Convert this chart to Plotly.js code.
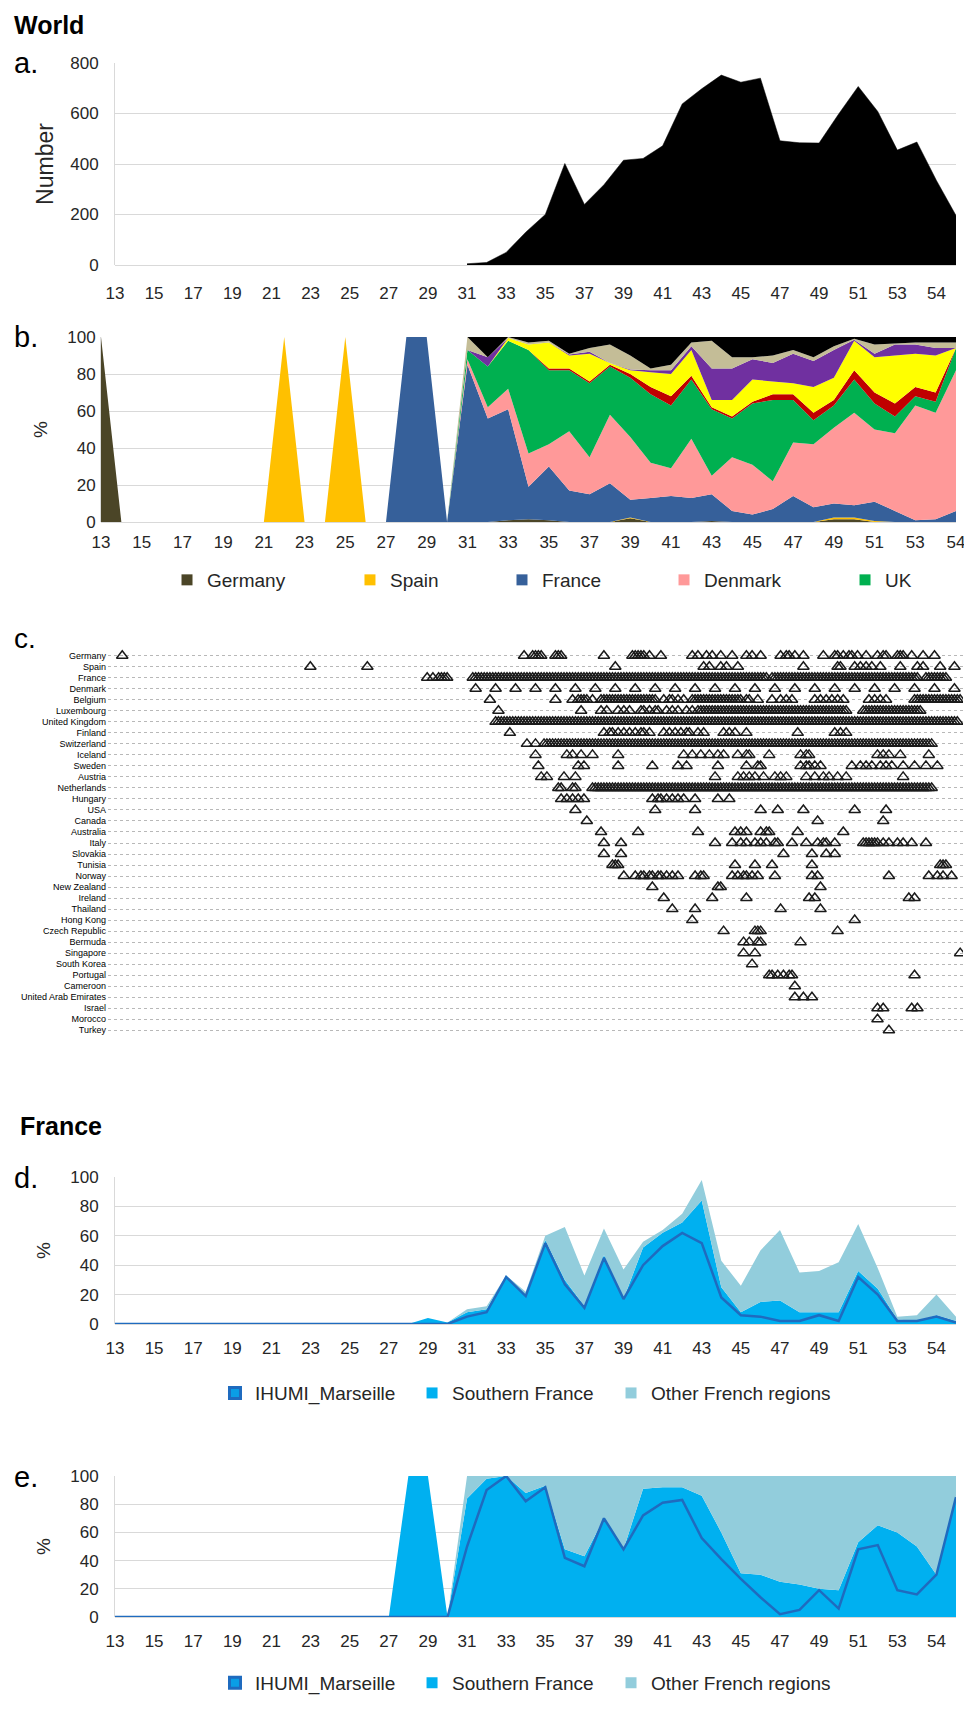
<!DOCTYPE html>
<html><head><meta charset="utf-8">
<script src="https://cdn.plot.ly/plotly-3.0.1.min.js"></script>
<style>
html,body{margin:0;padding:0;background:#fff;}
.p{position:absolute;left:0;width:964px;}
</style></head><body>
<div id="pa" class="p" style="top:0;height:320px"></div>
<div id="pb" class="p" style="top:320px;height:290px"></div>
<div id="pc" class="p" style="top:610px;height:470px"></div>
<div id="pd" class="p" style="top:1080px;height:340px"></div>
<div id="pe" class="p" style="top:1420px;height:290px"></div>
<script>
// ---------- shared week axis ----------
const weeks = [13,14,15,16,17,18,19,20,21,22,23,24,25,26,27,28,29,30,31,32,33,34,35,36,37,38,39,40,41,42,43,44,45,46,47,48,49,50,51,52,53,54,55,56];
const weeksB = [13,14,15,16,17,18,19,20,21,22,23,24,25,26,27,28,29,30,31,32,33,34,35,36,37,38,39,40,41,42,43,44,45,46,47,48,49,50,51,52,53,54,55];
const tickVals = [13,15,17,19,21,23,25,27,29,31,33,35,37,39,41,43,45,47,49,51,53,55];
const tickText = ['13','15','17','19','21','23','25','27','29','31','33','35','37','39','41','43','45','47','49','51','53','54'];

// ---------- panel a: number of genomes ----------
const worldCount = [null,null,null,null,null,null,null,null,null,null,null,null,null,null,null,null,null,null,
  5,10,50,130,200,402,240,318,415,422,472,638,698,752,724,740,492,484,483,598,707,608,455,487,335,196];

// ---------- panel b: % by country ----------
const germanyPct = [100,0,0,0,0,0,0,0,0,0,0,0,0,0,0,0,0,0, 0,0,1,1.5,1,0,0,0,2,0,0,0,0.5,0,0,0,0,0,1.5,1.5,0,0,0,0,0];
const spainPct   = [0,0,0,0,0,0,0,0,0,100,0,0,100,0,0,0,0,0, 0,0,0,0,0,0,0,0,0.5,0,0,0,0,0,0,0,0,0,1,1,0.5,0,0,0,0];
const francePct  = [0,0,0,0,0,0,0,0,0,0,0,0,0,0,0,100,100,0, 85,56,60,17.5,29,17,15,21,9.5,13,14,13,14.5,6,4,7,14,8,7.5,6.5,10.5,6,1,1.5,6];
const denmarkPct = [0,0,0,0,0,0,0,0,0,0,0,0,0,0,0,0,0,0, 3,6,11,18,12,32,20,37,34,19,15,32,10,29,27,15,29,34,41,50,39,42,62,57.5,76];
const ukPct      = [0,0,0,0,0,0,0,0,0,0,0,0,0,0,0,0,0,0, 5,22,26,56,40,33,40,26,32,37,34,32,36,21,33,44,23,13,12,18,14,9,5,6,12];
const redPct     = [0,0,0,0,0,0,0,0,0,0,0,0,0,0,0,0,0,0, 0,0,0,0,1,1,1,1,2,4,5,2,1,1,1,3,3,4,3,5,6,7,5,5,0];
const yellowPct  = [0,0,0,0,0,0,0,0,0,0,0,0,0,0,0,0,0,0, 0,0,1.5,3,14,7,15,1,2,8,12,14,4,9,12,7,6,14,12,16,19,26,18,20,0];
const purplePct  = [0,0,0,0,0,0,0,0,0,0,0,0,0,0,0,0,0,0, 0,5,0,0,0,0.5,1,0,0.5,1,2,2,17,17,11,10,16,14,15,0.5,2,6,5,4,0];
const tanPct     = [0,0,0,0,0,0,0,0,0,0,0,0,0,0,0,0,0,0, 7,0,0.5,1,1,0.5,2,10,7.5,1,3,2,15,6,1,4,2,2,2,0.5,5,0.5,1,3,3];
const blackPct   = [0,0,0,0,0,0,0,0,0,0,0,0,0,0,0,0,0,0, 0,11,0,3,2,9,6,4,10,17,15,3,2,11,11,10,7,11,5,1,4,3.5,3,3,3];
const legendCountries = ['Germany','Spain','France','Denmark','UK'];

// ---------- panel c: sampling days per country ----------
const countries = ['Germany','Spain','France','Denmark','Belgium','Luxembourg','United Kingdom','Finland','Switzerland','Iceland','Sweden','Austria','Netherlands','Hungary','USA','Canada','Australia','Italy','Slovakia','Tunisia','Norway','New Zealand','Ireland','Thailand','Hong Kong','Czech Republic','Bermuda','Singapore','South Korea','Portugal','Cameroon','United Arab Emirates','Israel','Morocco','Turkey'];
const daysGermany = [5,146,149,150,151,152,157,158,159,174,184,185,186,187,188,190,194,205,207,210,212,215,219,224,226,229,236,238,239,241,244,251,255,256,258,260,261,263,266,270,272,273,277,278,279,282,286,290];
const daysSpain = [71,91,178,209,211,215,217,221,244,256,257,262,264,266,268,271,278,284,286,292,297];
const daysFrance = [112,114,116,117,118,119,
  128,129,130,131,132,133,134,135,136,137,138,139,140,141,142,143,144,145,146,147,148,149,150,151,152,153,154,155,156,157,158,159,
  160,161,162,163,164,165,166,167,168,169,170,171,172,173,174,175,176,177,178,179,180,181,182,183,184,185,186,187,188,189,
  190,191,192,193,194,195,196,197,198,199,200,201,202,203,204,205,206,207,208,209,210,211,212,213,214,215,216,217,218,219,
  220,221,222,223,224,225,226,227,228,229,230,231,233,234,235,236,237,238,239,240,241,242,243,244,245,246,247,248,249,
  250,251,252,253,254,255,256,257,258,259,260,261,262,263,264,265,266,267,268,269,270,271,272,273,274,275,276,277,278,279,
  280,281,282,283,284,287,288,289,290,291,292,293,294];
const daysDenmark = [129,136,143,150,157,164,171,178,185,192,199,206,213,220,227,234,241,248,255,262,269,276,283,290,297];
const daysBelgium = [134,157,163,165,166,167,168,170,
  173,174,175,176,177,178,179,180,181,182,183,184,185,186,187,188,189,190,191,192,
  195,197,198,200,202,
  205,206,207,208,209,210,211,212,213,214,215,216,217,218,219,220,221,222,
  224,225,228,233,236,238,240,248,250,252,254,256,258,267,269,271,273,
  283,284,285,286,287,288,289,290,291,292,293,294,295,296,297,298,299];
const daysLuxembourg = [137,166,173,175,179,181,183,187,188,190,192,193,196,198,200,203,205,207,
  208,209,210,211,212,213,214,215,216,217,218,219,220,221,222,223,224,225,226,227,228,229,230,231,232,233,
  234,235,236,237,238,239,240,241,242,243,244,245,246,247,248,249,250,251,252,253,254,255,256,257,258,259,
  265,266,267,268,269,270,271,272,273,274,275,276,277,278,279,280,281,282,283,284,285];
const daysUK = [136,137,138,139,140,141,142,143,144,145,146,147,148,149,150,151,152,153,154,155,156,157,158,159,
  160,161,162,163,164,165,166,167,168,169,170,171,172,173,174,175,176,177,178,179,180,181,182,183,184,185,186,187,188,189,
  190,191,192,193,194,195,196,197,198,199,200,201,202,203,204,205,206,207,208,209,210,211,212,213,214,215,216,217,218,219,
  220,221,222,223,224,225,226,227,228,229,230,231,232,233,234,235,236,237,238,239,240,241,242,243,244,245,246,247,248,249,
  250,251,252,253,254,255,256,257,258,259,260,261,262,263,264,265,266,267,268,269,270,271,272,273,274,275,276,277,278,279,
  280,281,282,283,284,285,286,287,288,289,290,291,292,293,294,295,296,297,298];
const daysFinland = [141,174,176,177,179,181,183,185,187,188,190,195,197,199,201,203,204,207,209,216,218,220,224,242,255,257,259];
const daysSwitzerland = [147,150,153,154,155,156,157,158,159,
  160,161,162,163,164,165,166,167,168,169,170,171,172,173,174,175,176,177,178,179,180,181,182,183,184,185,186,187,188,189,
  190,191,192,193,194,195,196,197,198,199,200,201,202,203,204,205,206,207,208,209,210,211,212,213,214,215,216,217,218,219,
  220,221,222,223,224,225,226,227,228,229,230,231,232,233,234,235,236,237,238,239,240,241,242,243,244,245,246,247,248,249,
  250,251,252,253,254,255,256,257,258,259,260,261,262,263,264,265,266,267,268,269,270,271,272,273,274,275,276,277,278,279,
  280,281,282,283,284,285,286,287,288,289];
const daysIceland = [150,161,163,166,170,179,202,205,208,211,214,216,221,224,225,232,243,245,246,270,272,274,278,288];
const daysSweden = [151,165,167,179,191,200,203,214,224,228,229,243,245,246,248,250,261,264,266,268,271,273,275,279,283,287,291];
const daysAustria = [152,154,160,164,213,221,223,225,227,230,234,236,238,245,248,251,253,256,259,279];
const daysNetherlands = [158,159,163,164,
  170,171,172,173,174,175,176,177,178,179,180,181,182,183,184,185,186,187,188,189,
  190,191,192,193,194,195,196,197,198,199,200,201,202,203,204,205,206,207,208,209,210,211,212,213,214,215,216,217,218,219,
  220,221,222,223,224,225,226,227,228,229,230,231,232,233,234,235,236,237,238,239,240,241,242,243,244,245,246,247,248,249,
  250,251,252,253,254,255,256,257,258,259,260,261,262,263,264,265,266,267,268,269,270,271,272,273,274,275,276,277,278,279,
  280,281,282,283,284,285,286,287,288,289];
const daysHungary = [159,161,163,165,167,191,193,194,196,198,200,202,206,214,218];
const daysUSA = [164,192,206,229,235,244,262,273];
const daysCanada = [168,249,272];
const daysAustralia = [173,186,207,220,222,224,229,231,232,242,258];
const daysItaly = [174,180,213,219,222,224,227,229,231,234,235,240,245,249,251,252,255,265,266,267,268,269,270,272,274,277,279,282,287];
const daysSlovakia = [174,180,237,247,252,255];
const daysTunisia = [177,178,179,220,227,233,247,292,293,294];
const daysNorway = [181,185,187,188,190,191,193,194,196,198,200,206,208,209,219,221,223,224,226,228,234,247,249,274,288,291,293,296];
const daysNewZealand = [191,214,215,250];
const daysIreland = [195,212,224,246,248,281,283];
const daysThailand = [198,206,236,250];
const daysHongKong = [205,262];
const daysCzech = [216,227,228,229,256];
const daysBermuda = [223,225,228,229,243];
const daysSingapore = [223,227,299];
const daysSouthKorea = [226];
const daysPortugal = [232,233,235,237,239,240,283];
const daysCameroon = [241];
const daysUAE = [241,244,247];
const daysIsrael = [270,272,282,284];
const daysMorocco = [270];
const daysTurkey = [274];
const countryDays = [daysGermany,daysSpain,daysFrance,daysDenmark,daysBelgium,daysLuxembourg,daysUK,daysFinland,daysSwitzerland,daysIceland,daysSweden,daysAustria,daysNetherlands,daysHungary,daysUSA,daysCanada,daysAustralia,daysItaly,daysSlovakia,daysTunisia,daysNorway,daysNewZealand,daysIreland,daysThailand,daysHongKong,daysCzech,daysBermuda,daysSingapore,daysSouthKorea,daysPortugal,daysCameroon,daysUAE,daysIsrael,daysMorocco,daysTurkey];

// ---------- panel d: % of all French genomes ----------
const ihumiD = [0,0,0,0,0,0,0,0,0,0,0,0,0,0,0,0,0,0, 5,8,32,19,55,27,11,45,17,40,53,62,55,18,6,5,2,2,6,2,32,20,2,2,5,1];
const southD = [0,0,0,0,0,0,0,0,0,0,0,0,0,0,0,0,4,1, 3,2,1,0,2,3,1,2,0,12,9,7,29,7,2,10,14,6,2,6,4,4,1,0,1,1];
const otherD = [0,0,0,0,0,0,0,0,0,0,0,0,0,0,0,0,0,0, 2,2,0,3,3,36,21,18,20,4,2,6,14,18,18,35,48,27,28,34,32,14,2,4,14,3];
// ---------- panel e: % within France ----------
const ihumiE = [0,0,0,0,0,0,0,0,0,0,0,0,0,0,0,0,0,0, 50,90,100,82,92,42,36,70,48,72,81,83,56,41,27,14,2,5,19,6,48,51,19,16,30,85];
const southE = [0,0,0,0,0,0,0,0,0,0,0,0,0,0,0,100,100,0, 34,8,0,6,1,6,7,0,0,19,11,9,30,19,4,16,23,18,1,13,5,14,41,34,0,0];
const otherE = [0,0,0,0,0,0,0,0,0,0,0,0,0,0,0,0,0,0, 16,2,0,12,7,52,57,30,52,9,8,8,14,40,69,70,75,77,80,81,47,35,40,50,70,15];
const frSeries = ['IHUMI_Marseille','Southern France','Other French regions'];

// ---------- styling ----------
const FONT = 'Arial, "Liberation Sans", sans-serif';
const TXT = '#262626';
const GRID = '#d9d9d9';
const cfg = {staticPlot:true, displayModeBar:false};
const cB = {Germany:'#4b4527',Spain:'#ffc000',France:'#36609a',Denmark:'#ff9999',UK:'#00b050',Red:'#c00000',Yellow:'#ffff00',Purple:'#7030a0',Tan:'#c4bd97',Black:'#000000'};
const cIHU = '#1f6bbf', cSouth = '#00b0f0', cOther = '#92cddc';

function weekAxis(range, standoff){
  return {type:'linear', range:range, tickmode:'array', tickvals:tickVals, ticktext:tickText,
    showgrid:false, zeroline:false, showline:false, ticks:'', ticklabelstandoff:standoff,
    ticklabeloverflow:'allow', tickfont:{family:FONT,size:17,color:TXT}};
}
function pctAxis(standoff){
  return {range:[0,100], tick0:0, dtick:20, showgrid:true, gridcolor:GRID, gridwidth:1,
    zeroline:true, zerolinecolor:GRID, showline:true, linecolor:GRID, ticks:'',
    ticklabelstandoff:standoff, tickfont:{family:FONT,size:17,color:TXT},
    title:{text:'%', font:{family:FONT,size:19,color:TXT}, standoff:14}};
}
function label(text, xp, yp, size){
  return {text:text, xref:'paper', yref:'paper', x:xp, y:yp, xanchor:'left', yanchor:'middle',
    showarrow:false, font:{family:FONT,size:size,color:'#000'}};
}
function oneLegend(xp, yp){
  return {orientation:'h', x:xp, xanchor:'left', y:yp, yanchor:'middle', traceorder:'normal',
    font:{family:FONT,size:19,color:TXT}, bgcolor:'rgba(0,0,0,0)'};
}
const legKeys = ['legend','legend2','legend3','legend4','legend5'];

// ---------- panel a ----------
Plotly.newPlot('pa', [{
  x:weeks, y:worldCount, type:'scatter', mode:'lines', fill:'tozeroy',
  fillcolor:'#000', line:{color:'#000', width:0.5}, connectgaps:false, name:'World'
}], {
  width:964, height:320, margin:{l:115,r:8,t:63,b:55},
  paper_bgcolor:'#fff', plot_bgcolor:'#fff', showlegend:false,
  xaxis:weekAxis([13,56],16),
  yaxis:{range:[0,800], tick0:0, dtick:200, showgrid:true, gridcolor:GRID, zeroline:true, zerolinecolor:GRID,
    showline:true, linecolor:GRID, ticks:'', ticklabelstandoff:12, tickfont:{family:FONT,size:17,color:TXT},
    title:{text:'Number', font:{family:FONT,size:23,color:TXT}, standoff:10}},
  annotations:[label('<b>World</b>', -0.1225, 1.19, 25), label('a.', -0.1225, 1.0, 29)]
}, cfg);

// ---------- panel b ----------
const bSeries = [
  ['Germany',germanyPct],['Spain',spainPct],['France',francePct],['Denmark',denmarkPct],['UK',ukPct],
  ['Red',redPct],['Yellow',yellowPct],['Purple',purplePct],['Tan',tanPct],['Black',blackPct]];
const bTraces = bSeries.map(([nm,vals]) => ({
  x:weeksB, y:vals, type:'scatter', mode:'lines', stackgroup:'b', fillcolor:cB[nm],
  line:{width:0, color:cB[nm]}, name:nm, showlegend:false
}));
legendCountries.forEach((nm,i) => bTraces.push({
  x:[null], y:[null], type:'scatter', mode:'markers', name:nm, showlegend:true, legend:legKeys[i],
  marker:{symbol:'square', size:11, color:cB[nm]}
}));
const bLegX = [0.0772, 0.2912, 0.4690, 0.6585, 0.8702];
const layoutB = {
  width:964, height:290, margin:{l:101,r:8,t:17,b:88},
  paper_bgcolor:'#fff', plot_bgcolor:'#fff',
  xaxis:weekAxis([13,55],8),
  yaxis:pctAxis(1),
  annotations:[label('b.', -0.1041, 1.0, 29)]
};
bLegX.forEach((xp,i) => { layoutB[legKeys[i]] = oneLegend(xp, -0.3135); });
Plotly.newPlot('pb', bTraces, layoutB, cfg);

// ---------- panel c ----------
const cx = [], cy = [];
countries.forEach((c,i) => countryDays[i].forEach(d => { cx.push(d); cy.push(c); }));
Plotly.newPlot('pc', [{
  x:cx, y:cy, type:'scatter', mode:'markers', name:'Genomes',
  marker:{symbol:'triangle-up-open', size:10, color:'#1a1a1a', line:{width:1.5, color:'#1a1a1a'}}
}], {
  width:964, height:470, margin:{l:108,r:1,t:18,b:22},
  paper_bgcolor:'#fff', plot_bgcolor:'#fff', showlegend:false,
  xaxis:{range:[0,300], showgrid:false, zeroline:false, showline:false, showticklabels:false, ticks:''},
  yaxis:{type:'category', categoryorder:'array', categoryarray:countries, autorange:'reversed',
    showgrid:true, gridcolor:'#b8b8b8', griddash:'dot', gridwidth:1, zeroline:false, showline:false,
    ticks:'', ticklabelstandoff:1, tickfont:{family:FONT,size:9,color:'#000'}},
  annotations:[label('c.', -0.1123, 0.975, 28)]
}, cfg);

// ---------- panels d & e ----------
function frTraces(ihu, south, other){
  return [
    {x:weeks, y:ihu, type:'scatter', mode:'lines', stackgroup:'fr', fillcolor:cSouth, line:{width:0,color:cSouth}, name:frSeries[0], showlegend:false},
    {x:weeks, y:south, type:'scatter', mode:'lines', stackgroup:'fr', fillcolor:cSouth, line:{width:0,color:cSouth}, name:frSeries[1], showlegend:false},
    {x:weeks, y:other, type:'scatter', mode:'lines', stackgroup:'fr', fillcolor:cOther, line:{width:0,color:cOther}, name:frSeries[2], showlegend:false},
    {x:weeks, y:ihu, type:'scatter', mode:'lines', line:{width:2.5,color:cIHU}, name:frSeries[0]+' line', showlegend:false},
    {x:[null], y:[null], type:'scatter', mode:'markers', name:frSeries[0], legend:'legend', marker:{symbol:'square', size:11, color:'#0a9ee6', line:{color:cIHU,width:3}}},
    {x:[null], y:[null], type:'scatter', mode:'markers', name:frSeries[1], legend:'legend2', marker:{symbol:'square', size:11, color:cSouth}},
    {x:[null], y:[null], type:'scatter', mode:'markers', name:frSeries[2], legend:'legend3', marker:{symbol:'square', size:11, color:cOther}}
  ];
}
const frLegX = [0.1189, 0.3532, 0.5898];
function frLayout(h, t, b, legY, extra){
  const lay = {
    width:964, height:h, margin:{l:115,r:8,t:t,b:b},
    paper_bgcolor:'#fff', plot_bgcolor:'#fff',
    xaxis:weekAxis([13,56],12),
    yaxis:pctAxis(12),
    annotations:extra
  };
  frLegX.forEach((xp,i) => { lay[legKeys[i]] = oneLegend(xp, legY); });
  return lay;
}
Plotly.newPlot('pd', frTraces(ihumiD, southD, otherD),
  frLayout(340, 97, 92, -0.47, [label('<b>France</b>', -0.1153, 1.344, 25), label('d.', -0.1225, 0.99, 29)]), cfg);
Plotly.newPlot('pe', frTraces(ihumiE, southE, otherE),
  frLayout(290, 56, 82, -0.467, [label('e.', -0.1225, 0.995, 29)]), cfg);
</script>
</body></html>
